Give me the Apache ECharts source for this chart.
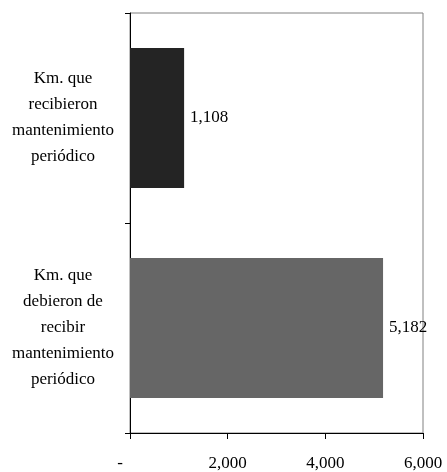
<!DOCTYPE html>
<html>
<head>
<meta charset="utf-8">
<script src="https://cdn.jsdelivr.net/npm/echarts@6/dist/echarts.min.js"></script>
<style>
  html, body { margin: 0; padding: 0; background: #fff; }
  #chart { width: 447px; height: 472px; }
</style>
</head>
<body>
<div id="chart"></div>
<script>
// Kilómetros con mantenimiento periódico
const categories = [
  'Km. que\nrecibieron\nmantenimiento\nperiódico',
  'Km. que\ndebieron de\nrecibir\nmantenimiento\nperiódico'
];
const values = [1108, 5182];
const barColors = ['#242424', '#666666'];
const xTicks = [0, 2000, 4000, 6000];

const serif = '"Liberation Serif", "Times New Roman", serif';
const fmt = v => v === 0 ? '{z|-}' : v.toLocaleString('en-US');

const chart = echarts.init(document.getElementById('chart'), null, { renderer: 'canvas' });
chart.setOption({
  animation: false,
  backgroundColor: '#ffffff',
  grid: {
    left: 130, right: 24, top: 13, bottom: 39,
    containLabel: false,
    outerBoundsMode: 'none',
    show: true,
    borderColor: '#808080',
    borderWidth: 1,
    backgroundColor: 'transparent'
  },
  xAxis: {
    type: 'value',
    min: xTicks[0],
    max: xTicks[xTicks.length - 1],
    interval: xTicks[1] - xTicks[0],
    splitLine: { show: false },
    axisLine: { show: true, lineStyle: { color: '#000', width: 1 } },
    axisTick: { show: true, length: 6, lineStyle: { color: '#000' } },
    axisLabel: {
      margin: 22,
      color: '#000',
      fontFamily: serif,
      fontSize: 17,
      formatter: fmt,
      rich: { z: { fontFamily: serif, fontSize: 17, color: '#000', padding: [0, 20, 0, 0] } }
    }
  },
  yAxis: {
    type: 'category',
    data: categories,
    inverse: true,
    axisLine: { show: true, lineStyle: { color: '#000', width: 1 } },
    axisTick: { show: true, length: 5, lineStyle: { color: '#000' } },
    axisLabel: {
      margin: 67,
      align: 'center',
      color: '#000',
      fontFamily: serif,
      fontSize: 17,
      lineHeight: 26
    }
  },
  series: [{
    type: 'bar',
    barWidth: 140,
    data: values.map((v, i) => ({ value: v, itemStyle: { color: barColors[i] } })),
    label: {
      show: true,
      position: 'right',
      distance: 6,
      color: '#000',
      fontFamily: serif,
      fontSize: 17,
      formatter: p => p.value.toLocaleString('en-US')
    }
  }]
});
</script>
</body>
</html>
